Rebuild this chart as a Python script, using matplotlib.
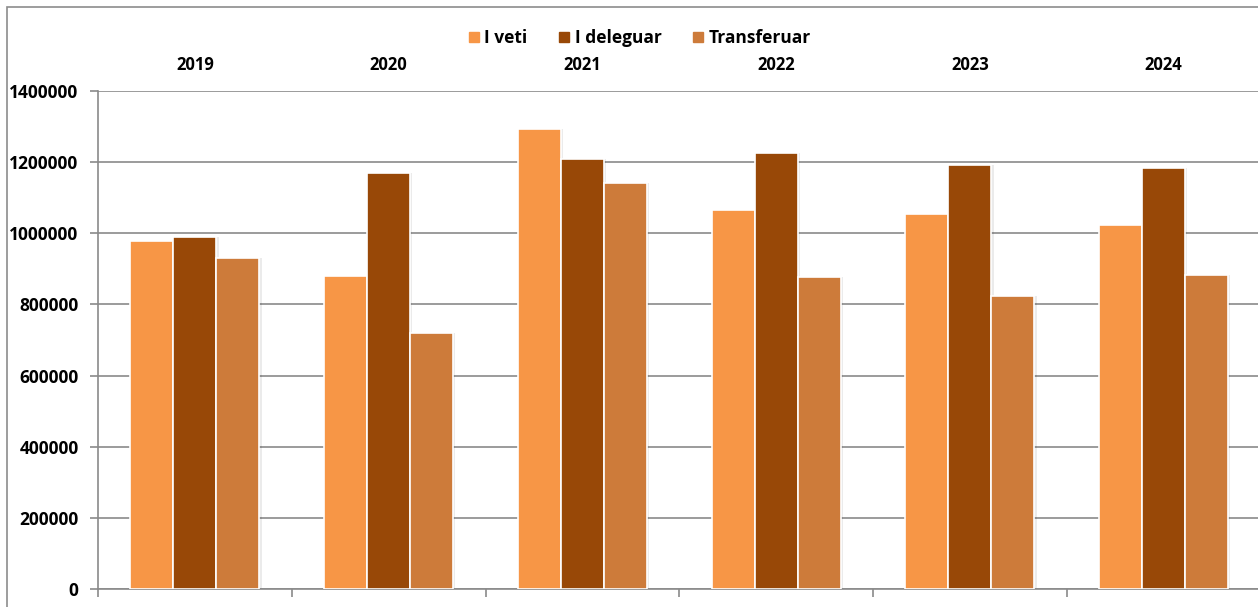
import matplotlib
matplotlib.use("Agg")
import matplotlib.pyplot as plt
import numpy as np
from matplotlib.patches import Rectangle
from matplotlib.lines import Line2D

years = ["2019", "2020", "2021", "2022", "2023", "2024"]
series_names = ["I veti", "I deleguar", "Transferuar"]
i_veti = [978000, 880000, 1293000, 1065000, 1054000, 1022000]
i_deleguar = [990000, 1169000, 1209000, 1226000, 1192000, 1183000]
transferuar = [930000, 720000, 1141000, 877000, 824000, 884000]
colors = ["#F79646", "#984807", "#CD7B3A"]
yticks = [0, 200000, 400000, 600000, 800000, 1000000, 1200000, 1400000]

W, H = 1258, 607
fig = plt.figure(figsize=(W / 100, H / 100), dpi=100)
plt.rcParams['font.family'] = ['Open Sans', 'DejaVu Sans']

# outer chart border (only top and left visible)
fig.add_artist(Rectangle((7 / W, -0.1), 2.0, (H - 7) / H + 0.1, transform=fig.transFigure,
                         fill=False, edgecolor="#8c8c8c", linewidth=1.2))

ax = fig.add_axes([98 / W, 18 / H, (W - 98) / W + 0.002, 498 / H])
x = np.arange(len(years))
bw = 0.222
for k, (vals, c) in enumerate(zip([i_veti, i_deleguar, transferuar], colors)):
    pos = x + (k - 1) * bw
    # soft shadow
    ax.bar(pos + 0.012, vals, bw, color="#000000", alpha=0.08, zorder=2, linewidth=0)
    ax.bar(pos, vals, bw, color=c, edgecolor="white", linewidth=1.2, zorder=3)

ax.set_xlim(-0.5, len(years) - 0.5)
ax.set_ylim(0, 1400000)
ax.set_yticks(yticks)
ax.set_yticklabels([str(v) for v in yticks], fontsize=12.5, fontweight="bold")
ax.yaxis.grid(True, color="#8a8a8a", linewidth=1.2, zorder=0)
ax.set_axisbelow(True)

ax.set_xticks(x)
ax.set_xticklabels(years, fontsize=12, fontweight="bold")
ax.tick_params(axis="x", which="major", bottom=False, labelbottom=False,
               top=False, labeltop=True, length=0, pad=12)
ax.set_xticks(np.arange(-0.5, len(years), 1.0), minor=True)
ax.tick_params(axis="x", which="minor", bottom=True, length=6, color="#8a8a8a", width=1.2)
ax.tick_params(axis="y", length=6, color="#8a8a8a", width=1.2, pad=8)

for s in ["top", "right"]:
    ax.spines[s].set_visible(False)
ax.spines["left"].set_color("#8a8a8a")
ax.spines["bottom"].set_color("#8a8a8a")
ax.spines["left"].set_linewidth(1.2)
ax.spines["bottom"].set_linewidth(1.2)

handles = [Line2D([0], [0], marker="s", linestyle="none", markersize=7,
                  markerfacecolor=c, markeredgecolor=c) for c in colors]
leg = fig.legend(handles, series_names, loc="center", bbox_to_anchor=(638 / W, 1 - 38 / H),
                 ncol=3, frameon=False, prop={"weight": "bold", "size": 12.5},
                 handletextpad=0.1, columnspacing=1.6, handlelength=1.0)

fig.savefig("out.png", dpi=100)
